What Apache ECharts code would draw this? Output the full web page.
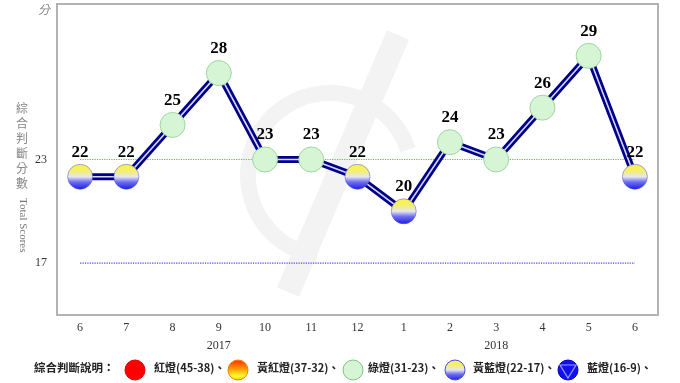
<!DOCTYPE html>
<html>
<head>
<meta charset="utf-8">
<script src="https://cdn.jsdelivr.net/npm/echarts@6/dist/echarts.min.js"></script>
<style>html,body{margin:0;padding:0;background:#fff}#c{width:680px;height:383px}</style>
</head>
<body>
<div id="c"></div>
<script>
// ---- data ----
var months = ['6','7','8','9','10','11','12','1','2','3','4','5','6'];
var years = ['','','','2017','','','','','','2018','','','',''];
var scores = [22,22,25,28,23,23,22,20,24,23,26,29,22];
var yTickLabels = [17, 23];
var refGreen = 23;
var refBlue = 17;
var legendTitle = '綜合判斷說明：';
var lightNames = ['紅燈(45-38)、','黃紅燈(37-32)、','綠燈(31-23)、','黃藍燈(22-17)、','藍燈(16-9)、'];

// ---- styles ----
var serif = '"Liberation Serif","DejaVu Serif",serif';
var cjk = '"Noto Sans CJK TC","Noto Sans CJK SC",sans-serif';
var greenFill = {color:'#d5f5d5', borderColor:'#9fd79f', borderWidth:1, opacity:1};
var yellowBlue = new echarts.graphic.LinearGradient(0,0,0,1,[
  {offset:0,color:'#fcf53a'},{offset:0.3,color:'#f2ee7a'},{offset:0.5,color:'#e6e6f2'},
  {offset:0.7,color:'#7070f0'},{offset:1,color:'#1a1ae6'}]);
var yellowRed = new echarts.graphic.LinearGradient(0,0,0,1,[
  {offset:0,color:'#ff2a00'},{offset:0.45,color:'#ff9a00'},{offset:0.8,color:'#ffff30'},{offset:1,color:'#ffc000'}]);

function styleFor(v){
  if (v >= 23) return greenFill;
  return {color:yellowBlue, borderColor:'#4a4ae0', borderWidth:0.5, opacity:1};
}

var chart = echarts.init(document.getElementById('c'), null, {renderer:'canvas'});

var markerData = scores.map(function(v){ return {value:v, itemStyle:styleFor(v)}; });
var refGreenLine = months.map(function(){ return refGreen; });
var refBlueLine = months.map(function(){ return refBlue; });

// legend graphics
var legendY = 370;
var iconX = [135, 238, 353, 455, 568];
var textX = [154, 257, 368, 473, 587];
var legendG = [];
legendG.push({type:'text', left:34, top:legendY-8, style:{text:legendTitle, font:'bold 11.5px '+cjk, fill:'#222'}});
var iconStyles = [
  {fill:'#ff0000', stroke:'#e00000'},
  {fill:yellowRed, stroke:'#ff7a00'},
  {fill:'#d5f5d5', stroke:'#7cc77c'},
  {fill:yellowBlue, stroke:'#4a4ae0'},
  {fill:'#1010f0', stroke:'#0000c0'}
];
for (var i=0;i<lightNames.length;i++){
  legendG.push({type:'circle', shape:{cx:iconX[i], cy:legendY, r:10}, style:{fill:iconStyles[i].fill, stroke:iconStyles[i].stroke, lineWidth:1}});
  legendG.push({type:'text', left:textX[i], top:legendY-8, style:{text:lightNames[i], font:'bold 11px '+cjk, fill:'#222'}});
}
legendG.push({type:'polygon', shape:{points:[[iconX[4]-8,legendY-5],[iconX[4]+8,legendY-5],[iconX[4],legendY+8]]}, style:{fill:'none', stroke:'#9a9aff', lineWidth:1.2}});

// faint watermark behind the plot
var watermark = [
  {type:'arc', z:-10, shape:{cx:330, cy:175, r:82, startAngle:Math.PI*0.55, endAngle:Math.PI*1.9}, style:{stroke:'#f3f3f3', lineWidth:16, fill:'none'}},
  {type:'line', z:-10, shape:{x1:398, y1:35, x2:288, y2:292}, style:{stroke:'#f3f3f3', lineWidth:24}}
];

var option = {
  backgroundColor:'#fff',
  animation:false,
  grid:{left:57, right:22, top:4, bottom:68, show:true, borderColor:'#b3b3b3', borderWidth:2, backgroundColor:'transparent'},
  xAxis:{
    type:'category', data:months, boundaryGap:true,
    axisLine:{show:false}, axisTick:{show:false}, splitLine:{show:false},
    axisLabel:{
      margin:4, color:'#333', fontFamily:serif, fontSize:12, lineHeight:18,
      formatter:function(v, idx){ return v + '\n' + (years[idx] || ' '); }
    }
  },
  yAxis:{
    type:'value', min:14, max:32, interval:1,
    axisLine:{show:false}, axisTick:{show:false}, splitLine:{show:false},
    axisLabel:{
      margin:10, color:'#333', fontFamily:serif, fontSize:12,
      formatter:function(v){ return yTickLabels.indexOf(v) >= 0 ? String(v) : ''; }
    }
  },
  series:[
    {
      type:'line', data:refGreenLine, symbol:'none', showSymbol:false, z:1, silent:true,
      lineStyle:{color:'#52c452', type:'dotted', width:1.2}
    },
    {
      type:'line', data:refBlueLine, symbol:'none', showSymbol:false, z:1, silent:true,
      lineStyle:{color:'#4848d8', type:'dotted', width:1.2}
    },
    {
      type:'line', data:scores, showSymbol:false, symbol:'none', z:2, silent:true,
      lineStyle:{color:'#00008a', width:7}
    },
    {
      type:'line', data:scores, showSymbol:false, symbol:'none', z:3, silent:true,
      lineStyle:{color:'#d8d8ff', width:1.6}
    },
    {
      type:'scatter', data:markerData, symbol:'circle', symbolSize:25, z:5,
      itemStyle:{opacity:1},
      label:{show:true, position:'top', distance:3, color:'#000', fontFamily:serif, fontWeight:'bold', fontSize:17}
    }
  ],
  graphic:watermark.concat([
    {type:'text', left:38, top:3, style:{text:'分', font:'italic 12px '+cjk, fill:'#888'}},
    {type:'text', left:16, top:101, style:{text:'綜\n合\n判\n斷\n分\n數', font:'12px '+cjk, fill:'#888', lineHeight:15}},
    {type:'text', x:17, y:198, rotation:-Math.PI/2, style:{text:'Total Scores', font:'11px '+serif, fill:'#777', textAlign:'left', textVerticalAlign:'bottom'}}
  ]).concat(legendG)
};
chart.setOption(option);
</script>
</body>
</html>
